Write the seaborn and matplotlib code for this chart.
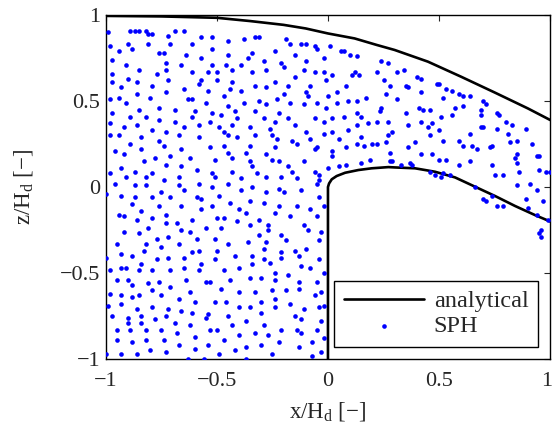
import matplotlib
matplotlib.use('Agg')
import pandas as pd
import seaborn as sns
import matplotlib.pyplot as plt
from matplotlib.transforms import ScaledTranslation

# analytical upper free surface
upper_x = [-1.0, -0.75, -0.5, -0.35, -0.2, -0.1, 0.0, 0.12, 0.22, 0.3, 0.45, 0.6, 0.75, 0.9, 1.0]
upper_z = [0.995, 0.992, 0.984, 0.965, 0.943, 0.922, 0.893, 0.864, 0.826, 0.797, 0.729, 0.641, 0.55, 0.457, 0.39]

# weir plate + analytical lower nappe
lower_x = [0.0, 0.0, 0.005, 0.017, 0.039, 0.077, 0.137, 0.197, 0.272, 0.302, 0.392,
           0.482, 0.572, 0.662, 0.752, 0.842, 0.932, 1.0]
lower_z = [-1.0, 0.0, 0.021, 0.045, 0.064, 0.083, 0.099, 0.109, 0.116, 0.114, 0.109,
           0.089, 0.056, 0.002, -0.052, -0.110, -0.163, -0.20]

# SPH particle positions (x/Hd, z/Hd)
sph_points = [
    # upper left
    (-0.99, 0.90), (-0.89, 0.91), (-0.87, 0.91), (-0.85, 0.91), (-0.82, 0.91), (-0.81, 0.89), (-0.79, 0.89),
    (-0.72, 0.88), (-0.69, 0.91), (-0.65, 0.91), (-0.57, 0.87), (-0.52, 0.87), (-0.45, 0.85), (-0.38, 0.86),
    (-0.98, 0.82), (-0.94, 0.79), (-0.90, 0.83), (-0.88, 0.80), (-0.81, 0.83), (-0.71, 0.83), (-0.61, 0.83),
    (-0.52, 0.80), (-0.45, 0.77), (-0.97, 0.74), (-0.76, 0.78), (-0.74, 0.78), (-0.64, 0.77), (-0.57, 0.75),
    (-0.91, 0.71), (-0.73, 0.72), (-0.66, 0.71), (-0.52, 0.71), (-0.46, 0.71), (-0.39, 0.71), (-0.85, 0.68),
    (-0.73, 0.68), (-0.61, 0.67), (-0.54, 0.67), (-0.50, 0.67), (-0.43, 0.68), (-0.97, 0.66), (-0.77, 0.66),
    (-0.90, 0.63), (-0.86, 0.61), (-0.72, 0.62), (-0.57, 0.62), (-0.58, 0.60), (-0.50, 0.62), (-0.43, 0.61),
    (-0.97, 0.61), (-0.93, 0.58), (-0.79, 0.59), (-0.65, 0.57), (-0.54, 0.56), (-0.44, 0.57), (-0.39, 0.56),
    (-0.98, 0.51), (-0.94, 0.52), (-0.86, 0.54), (-0.80, 0.52), (-0.73, 0.55), (-0.63, 0.51), (-0.61, 0.51),
    (-0.47, 0.53), (-0.55, 0.49), (-0.38, 0.49), (-0.91, 0.49), (-0.85, 0.45), (-0.76, 0.46), (-0.69, 0.45),
    (-0.60, 0.44), (-0.45, 0.47), (-0.42, 0.44), (-0.97, 0.43), (-0.89, 0.41), (-0.82, 0.41), (-0.52, 0.43),
    (-0.48, 0.42), (-0.61, 0.41), (-0.41, 0.40),
    # upper middle
    (-0.33, 0.87), (-0.31, 0.87), (-0.19, 0.86), (-0.17, 0.83), (-0.12, 0.83), (-0.10, 0.83), (-0.06, 0.82),
    (-0.05, 0.80), (0.01, 0.82), (0.06, 0.79), (0.07, 0.79), (0.10, 0.77), (0.13, 0.76), (0.24, 0.73),
    (0.27, 0.72), (-0.36, 0.75), (-0.34, 0.78), (-0.24, 0.79), (-0.15, 0.77), (-0.10, 0.73), (-0.21, 0.72),
    (-0.20, 0.70), (-0.02, 0.75), (-0.29, 0.73), (-0.34, 0.67), (-0.28, 0.68), (-0.11, 0.68), (-0.06, 0.67),
    (-0.02, 0.67), (0.02, 0.65), (-0.15, 0.64), (0.11, 0.65), (0.12, 0.67), (0.14, 0.65), (0.22, 0.67),
    (0.25, 0.62), (0.28, 0.59), (-0.33, 0.59), (-0.28, 0.58), (-0.24, 0.61), (-0.18, 0.59), (-0.08, 0.59),
    (-0.01, 0.62), (0.08, 0.59), (-0.20, 0.54), (-0.10, 0.55), (-0.09, 0.53), (0.00, 0.53), (0.04, 0.55),
    (0.17, 0.52), (0.26, 0.54), (-0.31, 0.50), (-0.28, 0.48), (-0.23, 0.51), (-0.17, 0.49), (-0.11, 0.48),
    (-0.05, 0.49), (0.04, 0.49), (0.09, 0.50), (0.13, 0.50), (-0.01, 0.46), (0.24, 0.46), (0.235, 0.445),
    (-0.33, 0.44), (-0.22, 0.43), (-0.18, 0.40), (-0.29, 0.40), (-0.06, 0.40), (0.02, 0.40), (0.07, 0.41),
    (0.13, 0.43), (0.15, 0.41),
    # upper right
    (0.31, 0.67), (0.34, 0.68), (0.40, 0.64), (0.42, 0.63), (0.35, 0.59), (0.36, 0.58), (0.42, 0.55),
    (0.49, 0.60), (0.50, 0.60), (0.53, 0.57), (0.56, 0.56), (0.59, 0.54), (0.61, 0.53), (0.64, 0.53),
    (0.52, 0.52), (0.70, 0.50), (0.71, 0.48), (0.31, 0.51), (0.41, 0.46), (0.43, 0.45), (0.46, 0.45),
    (0.35, 0.43), (0.57, 0.46), (0.61, 0.47), (0.69, 0.45), (0.69, 0.42), (0.76, 0.43), (0.77, 0.42),
    (0.51, 0.41), (0.56, 0.42),
    # middle left
    (-0.98, 0.37), (-0.92, 0.35), (-0.86, 0.36), (-0.76, 0.39), (-0.69, 0.38), (-0.65, 0.35), (-0.58, 0.36),
    (-0.53, 0.38), (-0.49, 0.35), (-0.43, 0.36), (-0.98, 0.30), (-0.94, 0.30), (-0.84, 0.29), (-0.79, 0.33),
    (-0.73, 0.32), (-0.67, 0.30), (-0.58, 0.29), (-0.47, 0.32), (-0.45, 0.30), (-0.41, 0.29), (-0.89, 0.25),
    (-0.76, 0.27), (-0.74, 0.24), (-0.84, 0.22), (-0.66, 0.22), (-0.53, 0.23), (-0.47, 0.24), (-0.45, 0.20),
    (-0.43, 0.17), (-0.96, 0.21), (-0.92, 0.19), (-0.71, 0.18), (-0.78, 0.17), (-0.83, 0.15), (-0.62, 0.17),
    (-0.51, 0.16), (-0.93, 0.11), (-0.73, 0.13), (-0.66, 0.12), (-0.59, 0.10), (-0.52, 0.08), (-0.51, 0.06),
    (-0.43, 0.09), (-0.39, 0.05), (-0.98, 0.08), (-0.91, 0.06), (-0.87, 0.09), (-0.82, 0.06), (-0.79, 0.08),
    (-0.67, 0.06), (-0.96, 0.02), (-0.87, 0.01), (-0.82, 0.01), (-0.74, 0.04), (-0.67, 0.01), (-0.65, -0.02),
    (-0.58, 0.02), (-0.52, 0.00), (-0.45, 0.02), (-0.39, -0.02), (-1.00, -0.04), (-0.93, -0.05), (-0.87, -0.06),
    (-0.88, -0.10), (-0.79, -0.06), (-0.75, -0.03), (-0.71, -0.06), (-0.59, -0.06), (-0.57, -0.07), (-0.49, -0.05),
    (-0.44, -0.09), (-0.84, -0.14), (-0.76, -0.11), (-0.66, -0.11), (-0.57, -0.13), (-0.52, -0.11), (-0.40, -0.13),
    (-0.94, -0.16), (-0.92, -0.17), (-0.86, -0.19), (-0.79, -0.18), (-0.73, -0.16), (-0.73, -0.21), (-0.68, -0.21),
    (-0.61, -0.19), (-0.50, -0.18), (-0.47, -0.18), (-0.41, -0.20), (-0.92, -0.26), (-0.85, -0.27), (-0.81, -0.24),
    (-0.66, -0.25), (-0.62, -0.26), (-0.55, -0.24), (-0.48, -0.24),
    # middle centre
    (-0.35, 0.35), (-0.24, 0.38), (-0.15, 0.36), (-0.02, 0.38), (-0.26, 0.34), (-0.33, 0.30), (-0.25, 0.30),
    (-0.23, 0.28), (-0.16, 0.27), (-0.14, 0.25), (-0.10, 0.32), (-0.08, 0.28), (-0.02, 0.31), (0.02, 0.32),
    (0.09, 0.33), (0.13, 0.36), (0.18, 0.37), (0.22, 0.38), (0.27, 0.38), (-0.35, 0.24), (-0.24, 0.23),
    (-0.06, 0.22), (-0.05, 0.23), (0.02, 0.21), (0.05, 0.28), (0.15, 0.29), (0.13, 0.25), (0.16, 0.24),
    (0.20, 0.25), (0.22, 0.25), (0.26, 0.26), (0.27, 0.30), (0.29, 0.32), (-0.37, 0.20), (-0.28, 0.19),
    (-0.25, 0.16), (-0.22, 0.15), (-0.35, 0.15), (-0.34, 0.12), (-0.18, 0.12), (-0.11, 0.15), (0.02, 0.18),
    (0.08, 0.23), (0.28, 0.20), (0.05, 0.12), (0.08, 0.13), (0.15, 0.14), (0.19, 0.16), (0.28, 0.15),
    (0.29, 0.15), (-0.32, 0.08), (-0.28, 0.06), (-0.21, 0.06), (-0.16, 0.09), (-0.14, 0.05), (-0.06, 0.09),
    (-0.04, 0.07), (0.00, 0.11), (-0.05, 0.02), (-0.04, 0.04), (-0.34, 0.00), (-0.28, -0.03), (-0.22, -0.01),
    (-0.20, -0.03), (-0.12, -0.02), (-0.04, -0.06), (-0.35, -0.08), (-0.29, -0.09), (-0.24, -0.15), (-0.22, -0.11),
    (-0.14, -0.11), (-0.08, -0.13), (-0.02, -0.11), (-0.37, -0.15), (-0.31, -0.19), (-0.17, -0.17), (-0.05, -0.17),
    (-0.35, -0.22), (-0.27, -0.22), (-0.27, -0.25), (-0.11, -0.22), (-0.09, -0.25), (-0.03, -0.26), (-0.21, -0.28),
    # middle right (over the nappe)
    (0.36, 0.36), (0.42, 0.38), (0.45, 0.35), (0.47, 0.37), (0.50, 0.33), (0.46, 0.30), (0.52, 0.27),
    (0.39, 0.26), (0.36, 0.23), (0.42, 0.19), (0.47, 0.19), (0.50, 0.16), (0.53, 0.16), (0.33, 0.13),
    (0.37, 0.14), (0.38, 0.13), (0.59, 0.27), (0.61, 0.24), (0.64, 0.31), (0.65, 0.24), (0.67, 0.22),
    (0.59, 0.13), (0.64, 0.15), (0.69, 0.35), (0.70, 0.35), (0.76, 0.34), (0.80, 0.38), (0.83, 0.36),
    (0.89, 0.34), (0.81, 0.31), (0.82, 0.26), (0.85, 0.27), (0.73, 0.23), (0.74, 0.24), (0.92, 0.25),
    (0.85, 0.19), (0.84, 0.17), (0.85, 0.14), (0.94, 0.18), (0.95, 0.18), (0.74, 0.13), (0.75, 0.07),
    (0.79, 0.07), (0.86, 0.09), (0.95, 0.10), (0.98, 0.09), (1.00, 0.09), (0.85, 0.01), (0.91, 0.02),
    (0.94, -0.02), (0.97, -0.08), (0.46, 0.09), (0.48, 0.07), (0.52, 0.08), (0.51, 0.06), (0.55, 0.07),
    (0.66, 0.00), (0.74, -0.05), (0.70, -0.07), (0.71, -0.08), (0.76, -0.11), (0.79, -0.11), (0.89, -0.07),
    (0.90, -0.12), (0.94, -0.16), (0.99, -0.19), (0.96, -0.25), (0.95, -0.27), (0.96, -0.29),
    # lower left
    (-0.95, -0.33), (-0.82, -0.33), (-0.77, -0.30), (-0.72, -0.29), (-0.67, -0.33), (-0.59, -0.30), (-0.51, -0.30),
    (-0.45, -0.33), (-0.93, -0.39), (-0.88, -0.40), (-0.83, -0.37), (-0.75, -0.35), (-0.77, -0.42), (-0.72, -0.41),
    (-0.65, -0.41), (-0.61, -0.38), (-0.58, -0.37), (-0.50, -0.37), (-0.42, -0.40), (-1.00, -0.41), (-0.98, -0.48),
    (-0.93, -0.47), (-0.91, -0.47), (-0.85, -0.48), (-0.84, -0.45), (-0.79, -0.48), (-0.71, -0.48), (-0.65, -0.47),
    (-0.57, -0.45), (-0.58, -0.48), (-0.51, -0.42), (-0.47, -0.48), (-0.40, -0.47), (-0.95, -0.54), (-0.90, -0.54),
    (-0.88, -0.57), (-0.81, -0.56), (-0.76, -0.55), (-0.71, -0.58), (-0.64, -0.54), (-0.55, -0.55), (-0.53, -0.55),
    (-0.44, -0.54), (-0.98, -0.62), (-0.93, -0.63), (-0.88, -0.64), (-0.85, -0.63), (-0.79, -0.60), (-0.75, -0.63),
    (-0.67, -0.65), (-0.62, -0.61), (-0.48, -0.59), (-0.40, -0.61), (-0.99, -0.69), (-0.93, -0.68), (-0.86, -0.71),
    (-0.79, -0.70), (-0.72, -0.71), (-0.60, -0.67), (-0.51, -0.67), (-0.46, -0.67), (-0.40, -0.70), (-0.97, -0.75),
    (-0.90, -0.76), (-0.90, -0.79), (-0.84, -0.75), (-0.84, -0.79), (-0.78, -0.77), (-0.73, -0.75), (-0.69, -0.79),
    (-0.66, -0.72), (-0.61, -0.73), (-0.55, -0.76), (-0.54, -0.74), (-0.45, -0.75), (-0.43, -0.80), (-0.95, -0.83),
    (-0.89, -0.83), (-0.82, -0.83), (-0.75, -0.83), (-0.68, -0.85), (-0.62, -0.80), (-0.53, -0.83), (-0.50, -0.83),
    (-0.40, -0.86), (-0.95, -0.89), (-0.88, -0.90), (-0.82, -0.89), (-0.74, -0.89), (-0.60, -0.87), (-0.67, -0.92),
    (-0.60, -0.94), (-0.54, -0.92), (-0.47, -0.89), (-0.42, -0.95), (-1.00, -0.97), (-0.93, -0.97), (-0.86, -0.97),
    (-0.80, -0.95), (-0.73, -0.96), (-0.63, -1.00), (-0.56, -1.00), (-0.49, -0.97),
    # lower centre (upstream of the plate)
    (-0.36, -0.32), (-0.31, -0.28), (-0.28, -0.32), (-0.19, -0.31), (-0.04, -0.31), (-0.34, -0.40), (-0.29, -0.36),
    (-0.29, -0.42), (-0.26, -0.44), (-0.21, -0.38), (-0.21, -0.41), (-0.15, -0.37), (-0.13, -0.40), (-0.10, -0.36),
    (-0.04, -0.42), (-0.34, -0.45), (-0.12, -0.46), (-0.08, -0.47), (-0.35, -0.53), (-0.30, -0.53), (-0.24, -0.50),
    (-0.24, -0.54), (-0.18, -0.51), (-0.13, -0.55), (-0.05, -0.55), (-0.02, -0.50), (-0.33, -0.61), (-0.25, -0.60),
    (-0.19, -0.60), (-0.13, -0.59), (-0.24, -0.65), (-0.30, -0.67), (-0.06, -0.63), (-0.03, -0.61), (-0.35, -0.70),
    (-0.24, -0.70), (-0.17, -0.68), (-0.11, -0.71), (-0.04, -0.70), (-0.02, -0.69), (-0.37, -0.78), (-0.30, -0.73),
    (-0.29, -0.80), (-0.15, -0.75), (-0.12, -0.77), (-0.03, -0.78), (-0.33, -0.85), (-0.27, -0.86), (-0.21, -0.83),
    (-0.14, -0.83), (-0.12, -0.85), (-0.05, -0.83), (-0.37, -0.93), (-0.30, -0.92), (-0.22, -0.90), (-0.13, -0.93),
    (-0.07, -0.90), (-0.02, -0.88), (-0.25, -0.97), (-0.07, -0.98), (-0.03, -0.96), (-0.37, -1.00),
]

tick_values = [-1, -0.5, 0, 0.5, 1]
tick_labels = ['\u22121', '\u22120.5', '0', '0.5', '1']

sns.set_style("white")
plt.rcParams['font.family'] = ['Liberation Serif', 'DejaVu Serif']
plt.rcParams['mathtext.fontset'] = 'custom'
plt.rcParams['mathtext.rm'] = 'Liberation Serif'
plt.rcParams['mathtext.it'] = 'Liberation Serif:italic'

sph = pd.DataFrame(sph_points, columns=['x', 'z'])

fig = plt.figure(figsize=(5.54, 4.30), dpi=100)
ax = fig.add_axes([0.191, 0.165, 0.802, 0.800])

sns.lineplot(x=upper_x, y=upper_z, sort=False, estimator=None, color='black',
             linewidth=1.9, label='analytical', ax=ax)
sns.lineplot(x=lower_x, y=lower_z, sort=False, estimator=None, color='black',
             linewidth=1.9, label='_nolegend_', ax=ax)
sns.scatterplot(data=sph, x='x', y='z', color=(0, 0, 1), s=11, linewidth=0,
                label='SPH', ax=ax, zorder=3)

ax.set_xlim(-1, 1)
ax.set_ylim(-1, 1)
ax.set_xticks(tick_values)
ax.set_yticks(tick_values)
ax.set_xticklabels(tick_labels, fontsize=16)
ax.set_yticklabels(tick_labels, fontsize=16)
ax.tick_params(direction='in', top=True, right=True, length=4, width=0.8)
ax.tick_params(axis='x', pad=9)
ax.tick_params(axis='y', pad=4)
for side in ax.spines.values():
    side.set_color('black')
    side.set_linewidth(1.0)

# keep the last x tick label inside the figure edge
last = ax.get_xticklabels()[-1]
last.set_transform(last.get_transform() + ScaledTranslation(-2.5 / 72, 0, fig.dpi_scale_trans))

ax.set_xlabel('x/H$_{\\mathrm{d}}$ [\u2212]', fontsize=16.5, labelpad=7)
ax.set_ylabel('z/H$_{\\mathrm{d}}$ [\u2212]', fontsize=16.5, labelpad=18)

leg = ax.legend(loc='lower right', bbox_to_anchor=(0.973, 0.035), borderaxespad=0,
                fontsize=17.5, frameon=True, fancybox=False, framealpha=1,
                edgecolor='black', handlelength=3.3, handletextpad=0.4,
                markerscale=1.0, borderpad=0.4, labelspacing=0.12)
leg.get_frame().set_linewidth(1.0)

fig.savefig('out.png', dpi=100)
